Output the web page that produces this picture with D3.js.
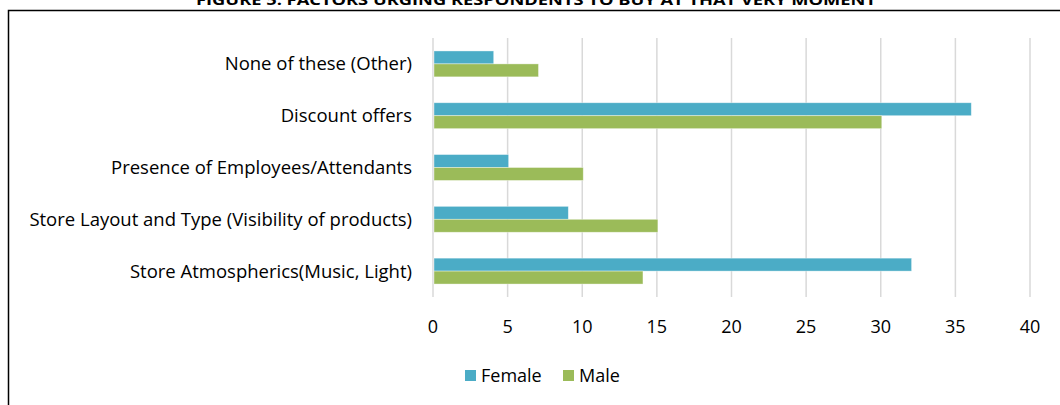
<!DOCTYPE html>
<html>
<head>
<meta charset="utf-8">
<script src="https://cdn.jsdelivr.net/npm/d3@7"></script>
<style>
  body { margin: 0; background: #fff; }
  text { font-family: "Open Sans", sans-serif; fill: #000; }
</style>
</head>
<body>
<div id="chart"></div>
<script>
const categories = [
  'None of these (Other)',
  'Discount offers',
  'Presence of Employees/Attendants',
  'Store Layout and Type (Visibility of products)',
  'Store Atmospherics(Music, Light)'
];
const seriesNames = ['Female', 'Male'];
const female = [4, 36, 5, 9, 32];
const male = [7, 30, 10, 15, 14];
const xTicks = [0, 5, 10, 15, 20, 25, 30, 35, 40];
const colors = ['#4bacc6', '#9bbb59'];

const width = 1060, height = 405;
const svg = d3.select('#chart').append('svg')
  .attr('width', width).attr('height', height);

// border box (cut off at right / bottom)
svg.append('rect')
  .attr('x', 8.5).attr('y', 10.5)
  .attr('width', 1100).attr('height', 500)
  .attr('fill', 'none').attr('stroke', '#000').attr('stroke-width', 1.5);

svg.append('text')
  .attr('x', 536).attr('y', 5)
  .attr('text-anchor', 'middle')
  .attr('textLength', 680)
  .attr('lengthAdjust', 'spacingAndGlyphs')
  .style('font-size', '15px').style('font-weight', 'bold')
  .text('FIGURE 5: FACTORS URGING RESPONDENTS TO BUY AT THAT VERY MOMENT');

const xScale = d3.scaleLinear().domain([0, 40]).range([433, 1030]);
const yScale = d3.scaleBand().domain(categories).range([38, 297]).paddingInner(0.5).paddingOuter(0.25);
const sub = d3.scaleBand().domain(seriesNames).range([0, yScale.bandwidth()]);

// gridlines
svg.append('g').selectAll('line')
  .data(xTicks).join('line')
  .attr('x1', d => xScale(d)).attr('x2', d => xScale(d))
  .attr('y1', 38).attr('y2', 297)
  .attr('stroke', '#d9d9d9').attr('stroke-width', 1.5);

const rows = categories.map((c, i) => ({ cat: c, vals: [female[i], male[i]] }));

const groups = svg.append('g').selectAll('g')
  .data(rows).join('g')
  .attr('transform', d => 'translate(0,' + yScale(d.cat) + ')');

groups.selectAll('rect')
  .data(d => d.vals.map((v, j) => ({ name: seriesNames[j], v: v, j: j })))
  .join('rect')
  .attr('x', xScale(0) + 1)
  .attr('y', d => sub(d.name))
  .attr('width', d => xScale(d.v) - xScale(0))
  .attr('height', sub.bandwidth())
  .attr('fill', d => colors[d.j])
  .attr('stroke', '#fff').attr('stroke-opacity', 0.5).attr('stroke-width', 0.75);

// category labels
svg.append('g').selectAll('text')
  .data(categories).join('text')
  .attr('x', 412)
  .attr('y', d => yScale(d) + yScale.bandwidth() / 2)
  .attr('dy', '0.35em')
  .attr('text-anchor', 'end')
  .style('font-size', '18.5px')
  .text(d => d);

// x tick labels
svg.append('g').selectAll('text')
  .data(xTicks).join('text')
  .attr('x', d => xScale(d))
  .attr('y', 327)
  .attr('dy', '0.35em')
  .attr('text-anchor', 'middle')
  .style('font-size', '18px')
  .text(d => d);

// legend
const legendX = [465, 563];
const legend = svg.append('g').selectAll('g')
  .data(seriesNames).join('g')
  .attr('transform', (d, i) => 'translate(' + legendX[i] + ',370)');
legend.append('rect')
  .attr('width', 11).attr('height', 11)
  .attr('fill', (d, i) => colors[i]);
legend.append('text')
  .attr('x', 16).attr('y', 5.5).attr('dy', '0.35em')
  .style('font-size', '18px')
  .text(d => d);
</script>
</body>
</html>
